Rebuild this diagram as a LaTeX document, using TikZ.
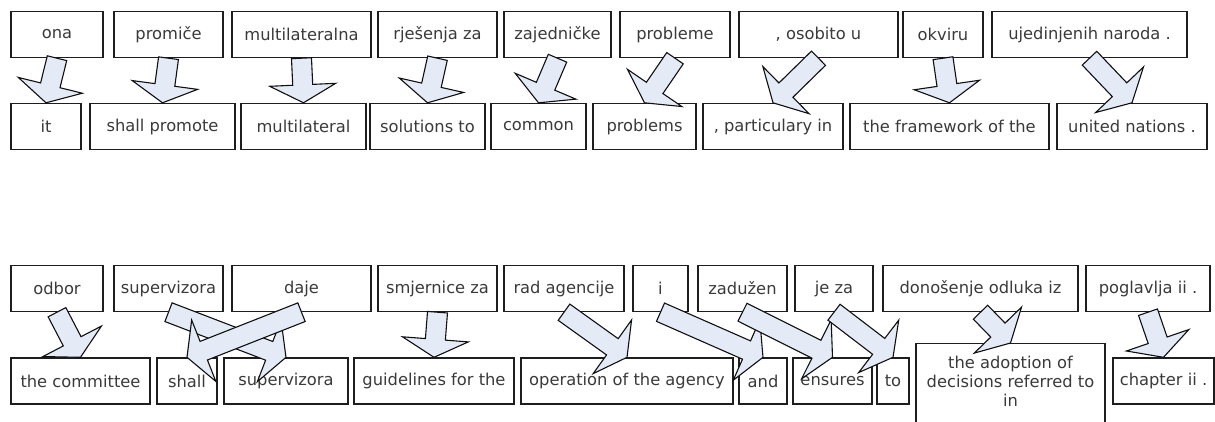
\documentclass[tikz,border=0pt]{standalone}
\usepackage{fontspec}
\setmainfont{DejaVu Sans}
\usetikzlibrary{calc}
\definecolor{WordLine}{HTML}{1E1E1E}
\definecolor{WordText}{HTML}{3A3A3A}
\definecolor{LinkFill}{HTML}{E4EAF6}
\definecolor{LinkLine}{HTML}{101010}
\tikzset{
  align word/.style={
    draw=WordLine,
    line width=1.4pt,
    fill=white,
    inner sep=0pt,
    minimum height=46pt,
    text=WordText,
    font=\fontsize{16.3}{18.8}\selectfont
  },
  align link/.style={draw=LinkLine, fill=LinkFill, line width=1.1pt, line join=miter}
}
% block arrow from the bottom of a source word to the top of its target word
\newcommand\alignlink[2]{%
  \draw[align link] let \p1=(#1.south), \p2=(#2.north),
      \n1={atan2(\y2-\y1,\x2-\x1)}, \n2={veclen(\x2-\x1,\y2-\y1)-18pt} in
    ($(\p1)+(\n1+90:10pt)$) -- ++(\n1:\n2) -- ++(\n1+90:23pt) -- (\p2)
    -- ($(\p1)+(\n1:\n2)+(\n1-90:33pt)$) -- ++(\n1+90:23pt)
    -- ($(\p1)+(\n1-90:10pt)$) -- cycle;}

\begin{document}
\begin{tikzpicture}[x=1pt, y=-1pt]
  \useasboundingbox[fill=white] (0,0) rectangle (1215,421);

  % sentence 1, source
  \node[align word, minimum width=92pt] (hrOna) at (57,34.5) {ona};
  \node[align word, minimum width=109pt] (hrPromice) at (168.5,34.5) {promiče};
  \node[align word, minimum width=139pt] (hrMultilat) at (301.5,34.5) {multilateralna};
  \node[align word, minimum width=119pt] (hrRjesenja) at (437.5,34.5) {rješenja za};
  \node[align word, minimum width=107pt] (hrZajed) at (557.5,34.5) {zajedničke};
  \node[align word, minimum width=110pt] (hrProbleme) at (675,34.5) {probleme};
  \node[align word, minimum width=159pt] (hrOsobito) at (818.5,34.5) {, osobito u};
  \node[align word, minimum width=80pt] (hrOkviru) at (943,34.5) {okviru};
  \node[align word, minimum width=195pt] (hrUjedinj) at (1089.5,34.5) {ujedinjenih naroda .};

  % sentence 1, target
  \node[align word, minimum width=70pt] (enIt) at (46,126.5) {it};
  \node[align word, minimum width=145pt] (enPromote) at (162.5,126.5) {shall promote};
  \node[align word, minimum width=125pt] (enMultilat) at (303.5,126.5) {multilateral};
  \node[align word, minimum width=115pt] (enSolutions) at (427.5,126.5) {solutions to};
  \node[align word, minimum width=95pt] (enCommon) at (538.5,126.5) {common};
  \node[align word, minimum width=103pt] (enProblems) at (644.5,126.5) {problems};
  \node[align word, minimum width=140pt] (enParticul) at (773,126.5) {, particulary in};
  \node[align word, minimum width=199pt] (enFramework) at (949.5,126.5) {the framework of the};
  \node[align word, minimum width=150pt] (enNations) at (1132,126.5) {united nations .};

  % sentence 2, source
  \node[align word, minimum width=92pt] (hrOdbor) at (57,288.5) {odbor};
  \node[align word, minimum width=109pt] (hrSuperv) at (168.5,288.5) {supervizora};
  \node[align word, minimum width=139pt] (hrDaje) at (301.5,288.5) {daje};
  \node[align word, minimum width=119pt] (hrSmjernice) at (437.5,288.5) {smjernice za};
  \node[align word, minimum width=120pt] (hrRad) at (564,288.5) {rad agencije};
  \node[align word, minimum width=55pt] (hrI) at (660.5,288.5) {i};
  \node[align word, minimum width=89pt] (hrZaduzen) at (742.5,288.5) {zadužen};
  \node[align word, minimum width=78pt] (hrJeZa) at (834,288.5) {je za};
  \node[align word, minimum width=195pt] (hrDonosenje) at (980.5,288.5) {donošenje odluka iz};
  \node[align word, minimum width=124pt] (hrPoglavlja) at (1148,288.5) {poglavlja ii .};

  % sentence 2, target
  \node[align word, minimum width=139pt] (enCommittee) at (80.5,381) {the committee};
  \node[align word, minimum width=60pt] (enShall) at (187,381) {shall};
  \node[align word, minimum width=124pt] (enSuperv) at (286,381) {supervizora};
  \node[align word, minimum width=160pt] (enGuidelines) at (434,381) {guidelines for the};
  \node[align word, minimum width=212pt] (enOperation) at (627,381) {operation of the agency};
  \node[align word, minimum width=48pt] (enAnd) at (763,381) {and};
  \node[align word, minimum width=79pt] (enEnsures) at (832.5,381) {ensures};
  \node[align word, minimum width=32pt] (enTo) at (893,381) {to};
  \node[align word, minimum width=189pt, anchor=north, align=center,
    inner ysep=12.5pt, text depth=16pt] (enAdoption) at (1010.5,343)
    {the adoption of\\decisions referred to\\in};
  \node[align word, minimum width=101pt] (enChapter) at (1163.5,381) {chapter ii .};

  \alignlink{hrOna}{enIt}
  \alignlink{hrPromice}{enPromote}
  \alignlink{hrMultilat}{enMultilat}
  \alignlink{hrRjesenja}{enSolutions}
  \alignlink{hrZajed}{enCommon}
  \alignlink{hrProbleme}{enProblems}
  \alignlink{hrOsobito}{enParticul}
  \alignlink{hrOkviru}{enFramework}
  \alignlink{hrUjedinj}{enNations}

  \alignlink{hrOdbor}{enCommittee}
  \alignlink{hrSuperv}{enSuperv}
  \alignlink{hrDaje}{enShall}
  \alignlink{hrSmjernice}{enGuidelines}
  \alignlink{hrRad}{enOperation}
  \alignlink{hrI}{enAnd}
  \alignlink{hrZaduzen}{enEnsures}
  \alignlink{hrJeZa}{enTo}
  \alignlink{hrDonosenje}{enAdoption}
  \alignlink{hrPoglavlja}{enChapter}
\end{tikzpicture}
\end{document}
